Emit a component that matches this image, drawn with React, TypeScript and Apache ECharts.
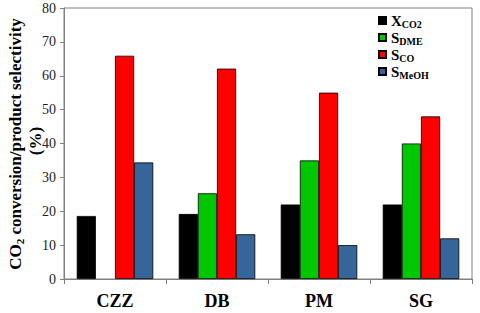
import React, { useEffect, useRef } from "react";
import * as echarts from "echarts";

const categories = ["CZZ", "DB", "PM", "SG"];
const xCO2 = [18.6, 19.2, 22, 22];
const sDME = [0, 25.3, 35, 40];
const sCO = [65.9, 62.1, 55, 48];
const sMeOH = [34.4, 13.2, 10, 12];
const legendMain = ["X", "S", "S", "S"];
const legendSub = ["CO2", "DME", "CO", "MeOH"];
const seriesNames = ["XCO2", "SDME", "SCO", "SMeOH"];
const colors = ["#000000", "#00c800", "#ff0000", "#36659a"];

const serif = "Liberation Serif";

export default function App() {
  const ref = useRef<HTMLDivElement>(null);
  useEffect(() => {
    document.body.style.margin = "0";
    const chart = echarts.init(ref.current!, null, { renderer: "svg" });
    const values = [xCO2, sDME, sCO, sMeOH];
    chart.setOption({
      animation: false,
      textStyle: { fontFamily: serif },
      grid: {
        left: 64,
        right: 8,
        top: 8,
        bottom: 34,
        show: true,
        borderColor: "#808080",
        borderWidth: 1,
      },
      legend: {
        orient: "vertical",
        left: 373,
        top: 8,
        itemWidth: 7,
        itemHeight: 7,
        itemGap: 1,
        icon: "rect",
        data: seriesNames,
        formatter: (name: string) => {
          const i = seriesNames.indexOf(name);
          return `{m|${legendMain[i]}}{s|${legendSub[i]}}`;
        },
        textStyle: {
          fontFamily: serif,
          fontWeight: "bold",
          color: "#000",
          rich: {
            m: { fontSize: 15, fontWeight: "bold", fontFamily: serif, color: "#000", lineHeight: 15, verticalAlign: "middle" },
            s: { fontSize: 10, fontWeight: "bold", fontFamily: serif, color: "#000", padding: [7, 0, 0, 0], verticalAlign: "middle" },
          },
        },
      },
      xAxis: {
        type: "category",
        data: categories,
        axisLine: { lineStyle: { color: "#808080" } },
        axisTick: { show: true, length: 5, lineStyle: { color: "#808080" } },
        axisLabel: {
          fontFamily: serif,
          fontWeight: "bold",
          fontSize: 18,
          color: "#000",
          margin: 13,
        },
      },
      yAxis: {
        type: "value",
        min: 0,
        max: 80,
        interval: 10,
        splitLine: { show: false },
        axisLine: { show: true, lineStyle: { color: "#808080" } },
        axisTick: { show: true, length: 4, lineStyle: { color: "#808080" } },
        axisLabel: {
          fontFamily: serif,
          fontSize: 14,
          color: "#222",
          margin: 8,
        },
      },
      graphic: [
        {
          type: "text",
          x: 15,
          y: 144,
          rotation: Math.PI / 2,
          style: {
            text: "{m|CO}{s|2}{m| conversion/product selectivity}",
            align: "center",
            verticalAlign: "middle",
            rich: {
              m: { fontSize: 17, fontWeight: "bold", fontFamily: serif, fill: "#000", lineHeight: 17, verticalAlign: "middle" },
              s: { fontSize: 11, fontWeight: "bold", fontFamily: serif, fill: "#000", padding: [9, 0, 0, 0], verticalAlign: "middle" },
            },
          },
        },
        {
          type: "text",
          x: 35,
          y: 141,
          rotation: Math.PI / 2,
          style: {
            text: "(%)",
            align: "center",
            verticalAlign: "middle",
            fontSize: 17,
            fontWeight: "bold",
            fontFamily: serif,
            fill: "#000",
          },
        },
      ],
      series: seriesNames.map((n, i) => ({
        name: n,
        type: "bar",
        data: values[i].map((v) => (v === 0 ? null : v)),
        barGap: "0%",
        barCategoryGap: "25%",
        itemStyle: { color: colors[i], borderColor: "#000", borderWidth: 0.8 },
      })),
    });
    return () => chart.dispose();
  }, []);
  return <div ref={ref} style={{ width: 480, height: 313 }} />;
}
